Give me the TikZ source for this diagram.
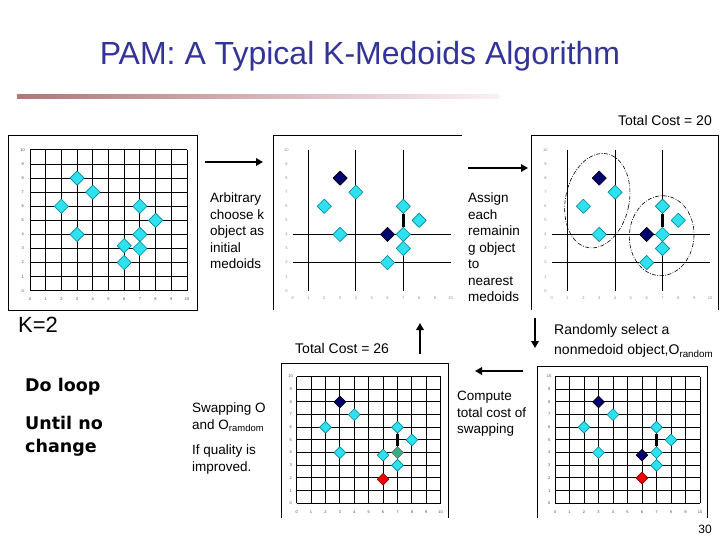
\documentclass[tikz,border=0pt]{standalone}
\usepackage{fontspec}
\setmainfont{Liberation Sans}
\newfontfamily\loopfont{DejaVu Sans}
\usetikzlibrary{shapes.geometric, arrows.meta}

\definecolor{titleblue}{RGB}{51,51,153}
\definecolor{objcyan}{RGB}{45,225,238}
\definecolor{objedge}{RGB}{0,135,155}
\definecolor{mednavy}{RGB}{0,0,110}
\definecolor{newred}{RGB}{240,0,0}
\definecolor{swapteal}{RGB}{60,170,130}
\definecolor{barleft}{RGB}{178,118,118}
\definecolor{barright}{RGB}{250,240,246}

\begin{document}
\begin{tikzpicture}[x=1pt, y=-1pt, line join=round,
  obj/.style={diamond, draw=objedge, fill=objcyan, inner sep=0pt, minimum size=14.5pt, line width=0.6pt},
  med/.style={obj, draw=black, fill=mednavy},
  rnd/.style={obj, draw=red!50!black, fill=newred},
  swp/.style={obj, draw=black!60, fill=swapteal},
  gridline/.style={line width=1pt},
  link/.style={line width=2.4pt},
  frame/.style={line width=0.9pt},
  tick/.style={font=\fontsize{4}{4}\selectfont, text=black!70, inner sep=0pt},
  txt/.style={font=\fontsize{13.5}{16.5}\selectfont, align=left, inner sep=0pt, anchor=north west},
  boldtxt/.style={font=\loopfont\bfseries\fontsize{17.5}{23}\selectfont, align=left, inner sep=0pt, anchor=north west},
  flow/.style={line width=2.6pt, -{Triangle[length=7pt, width=7.5pt]}},
  hull/.style={line width=0.6pt, dash pattern=on 4pt off 1.5pt on 0.8pt off 1.5pt}]
  \useasboundingbox (0,0) rectangle (720,540);

  % titel en balk
  \node[text=titleblue, font=\fontsize{32}{36}\selectfont] (title) at (360,56) {PAM: A Typical K-Medoids Algorithm};
  \shade[left color=barleft, right color=barright] (17,95) rectangle (499,99);
  \node[font=\fontsize{14}{16}\selectfont, inner sep=0pt, anchor=east] (cost20) at (712,120) {Total Cost = 20};

  % kaders
  \draw[frame] (8,135) rectangle (197,310);
  \draw[frame] (462,135) -- (273,135) -- (273,310);
  \draw[frame] (531.7,310) -- (531.7,135) -- (718,135) -- (718,310);
  \draw[frame] (281,518) -- (281,363) -- (448,363) -- (448,518);
  \draw[frame] (537,518) -- (537,366) -- (707,366) -- (707,518);

  % plot 1: willekeurige start
  \begin{scope}[shift={(30,290.7)}, x=15.7pt, y=14.07pt]
    \foreach \v in {0,...,10} {
      \draw[gridline] (\v,0) -- (\v,10);
      \draw[gridline] (0,\v) -- (10,\v);
      \node[tick] at (\v,-0.6) {\v};
      \node[tick] at (-0.47,\v) {\v};
    }
    \foreach \p/\q [count=\i] in {3/8,4/7,2/6,3/4,7/6,8/5,7/4,6/3.2,7/3,6/2}
      \node[obj] (a\i) at (\p,\q) {};
  \end{scope}

  % plot 2: k medoids gekozen
  \begin{scope}[shift={(292.7,290.7)}, x=15.8pt, y=14.07pt]
    \foreach \v in {1,4,7} \draw[gridline] (\v,0) -- (\v,10);
    \foreach \v in {2,4} \draw[gridline] (0,\v) -- (10,\v);
    \foreach \v in {0,...,10} {
      \node[tick, text=black!45] at (\v,-0.55) {\v};
      \node[tick, text=black!45] at (-0.4,\v) {\v};
    }
    \node[obj] (b6) at (7,6) {};
    \node[obj] (b8) at (7,4) {};
    \draw[link] (b6) -- (b8);
    \foreach \p/\q [count=\i] in {4/7,2/6,3/4,8/5,7/3,6/2}
      \node[obj] (bo\i) at (\p,\q) {};
    \node[med] (bm1) at (3,8) {};
    \node[med] (bm2) at (6,4) {};
  \end{scope}

  % plot 3: toewijzing aan clusters
  \begin{scope}[shift={(551.7,290.7)}, x=15.83pt, y=14.07pt]
    \foreach \v in {1,4,7} \draw[gridline] (\v,0) -- (\v,10);
    \foreach \v in {2,4} \draw[gridline] (0,\v) -- (10,\v);
    \foreach \v in {0,...,10} {
      \node[tick, text=black!45] at (\v,-0.55) {\v};
      \node[tick, text=black!45] at (-0.4,\v) {\v};
    }
    \node[obj] (c6) at (7,6) {};
    \node[obj] (c8) at (7,4) {};
    \draw[link] (c6) -- (c8);
    \foreach \p/\q [count=\i] in {4/7,2/6,3/4,8/5,7/3,6/2}
      \node[obj] (co\i) at (\p,\q) {};
    \node[med] (cm1) at (3,8) {};
    \node[med] (cm2) at (6,4) {};
  \end{scope}
  \draw[hull, rotate around={-12:(597.3,200.7)}] (597.3,200.7) ellipse [x radius=31.8pt, y radius=47.8pt];
  \draw[hull, rotate around={-4:(661.7,235.7)}] (661.7,235.7) ellipse [x radius=32.3pt, y radius=40pt];

  % plot 4: ruil met O_random
  \begin{scope}[shift={(296.7,503.3)}, x=14.4pt, y=12.67pt,
      obj/.append style={minimum size=12pt}]
    \foreach \v in {0,...,10} {
      \draw[gridline] (\v,0) -- (\v,10);
      \draw[gridline] (0,\v) -- (10,\v);
      \node[tick] at (\v,-0.66) {\v};
      \node[tick] at (-0.42,\v) {\v};
    }
    \node[obj] (d6) at (7,6) {};
    \node[swp] (d8) at (7,4) {};
    \draw[link] (d6) -- (d8);
    \foreach \p/\q [count=\i] in {4/7,2/6,3/4,8/5,7/3,6/3.8}
      \node[obj] (do\i) at (\p,\q) {};
    \node[med] (dm1) at (3,8) {};
    \node[rnd] (dr) at (6,1.9) {};
  \end{scope}

  % plot 5: kosten van ruil
  \begin{scope}[shift={(555,503.3)}, x=14.5pt, y=12.67pt,
      obj/.append style={minimum size=12pt}]
    \foreach \v in {0,...,10} {
      \draw[gridline] (\v,0) -- (\v,10);
      \draw[gridline] (0,\v) -- (10,\v);
      \node[tick] at (\v,-0.66) {\v};
      \node[tick] at (-0.4,\v) {\v};
    }
    \node[obj] (e6) at (7,6) {};
    \node[obj] (e8) at (7,4) {};
    \draw[link] (e6) -- (e8);
    \foreach \p/\q [count=\i] in {4/7,2/6,3/4,8/5,7/3}
      \node[obj] (eo\i) at (\p,\q) {};
    \node[med] (em1) at (3,8) {};
    \node[med] (em2) at (6,3.8) {};
    \node[rnd] (er) at (6,2) {};
  \end{scope}

  % teksten
  \node[txt] (init) at (210,193) {Arbitrary\\choose k\\object as\\initial\\medoids};
  \node[txt] (assign) at (468,193) {Assign\\each\\remainin\\g object\\to\\nearest\\medoids};
  \node[font=\fontsize{22}{26}\selectfont, inner sep=0pt, anchor=west] (k) at (18,325) {K=2};
  \node[font=\fontsize{14}{16}\selectfont, inner sep=0pt, anchor=west] (cost26) at (295,348) {Total Cost = 26};
  \node[txt, font=\fontsize{14}{20.5}\selectfont] (select) at (554,324) {Randomly select a\\nonmedoid object,O\textsubscript{random}};
  \node[boldtxt, anchor=west] (doloop) at (25,387) {Do loop};
  \node[boldtxt] (until) at (25,416) {Until no\\change};
  \node[txt] (swap) at (192,403) {Swapping O\\and O\textsubscript{ramdom}};
  \node[txt] (quality) at (192,445) {If quality is\\improved.};
  \node[txt] (compute) at (457,391) {Compute\\total cost of\\swapping};
  \node[font=\fontsize{12}{14}\selectfont, inner sep=0pt] (page) at (705,529) {30};

  % pijlen
  \coordinate (p1a) at (205,162);  \coordinate (p1b) at (263,162);
  \coordinate (p2a) at (468,168);  \coordinate (p2b) at (528,168);
  \coordinate (p3a) at (535,318);  \coordinate (p3b) at (535,348);
  \coordinate (p4a) at (523,371);  \coordinate (p4b) at (475,371);
  \coordinate (p5a) at (420,354);  \coordinate (p5b) at (420,323);
  \draw[flow] (p1a) -- (p1b);
  \draw[flow] (p2a) -- (p2b);
  \draw[flow] (p3a) -- (p3b);
  \draw[flow] (p4a) -- (p4b);
  \draw[flow] (p5a) -- (p5b);
\end{tikzpicture}
\end{document}
